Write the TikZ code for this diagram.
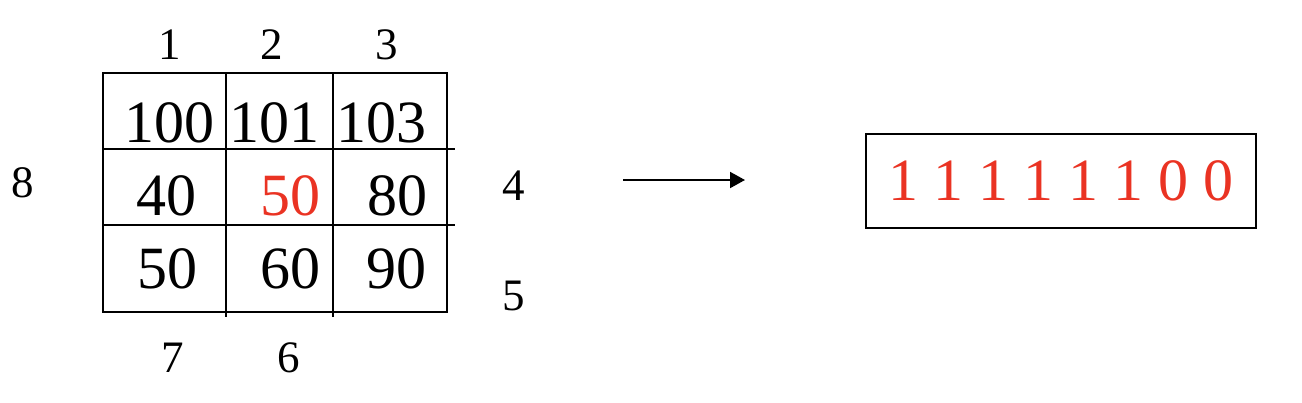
\documentclass[tikz,border=0pt]{standalone}
\usepackage{fontspec}
\setmainfont{Liberation Serif}
\usetikzlibrary{arrows.meta}
\definecolor{hot}{RGB}{234,51,35}
\begin{document}
\begin{tikzpicture}[x=1pt,y=-1pt,line width=2pt,
        cell/.style={anchor=base,inner sep=0pt,font=\fontsize{60}{70}\selectfont},
        idx/.style={anchor=base,inner sep=0pt,font=\fontsize{45}{52}\selectfont}]
        %% Frame
        \useasboundingbox (0,0) rectangle (1302,402);
        %% Grid
        \draw (103,73) rectangle (447,312);
        \draw (103,149) -- (455,149);
        \draw (103,225) -- (455,225);
        \draw (226,73) -- (226,317);
        \draw (333,73) -- (333,317);
        %% Pixels
        \node[cell] (p11) at (169,142) {100};
        \node[cell] (p12) at (274,142) {101};
        \node[cell] (p13) at (381,142) {103};
        \node[cell] (p21) at (166,215) {40};
        \node[cell,text=hot] (p22) at (290,215) {50};
        \node[cell] (p23) at (397,215) {80};
        \node[cell] (p31) at (167,288) {50};
        \node[cell] (p32) at (290,288) {60};
        \node[cell] (p33) at (396,288) {90};
        %% Neighbour order
        \node[idx] (n1) at (170,59) {1};
        \node[idx] (n2) at (272,59) {2};
        \node[idx] (n3) at (387,59) {3};
        \node[idx] (n4) at (514,200) {4};
        \node[idx] (n5) at (514,310) {5};
        \node[idx] (n6) at (289,372) {6};
        \node[idx] (n7) at (173,372) {7};
        \node[idx] (n8) at (23,197) {8};
        %% Arrow
        \coordinate (from) at (623,180);
        \coordinate (to) at (745,180);
        \draw[-{Triangle[length=15pt,width=16pt]}] (from) -- (to);
        %% Code
        \node[draw,minimum width=390pt,minimum height=94pt,inner sep=0pt,text=hot,font=\fontsize{60}{70}\selectfont] (code) at (1061,181) {1 1 1 1 1 1 0 0};
    \end{tikzpicture}
\end{document}
